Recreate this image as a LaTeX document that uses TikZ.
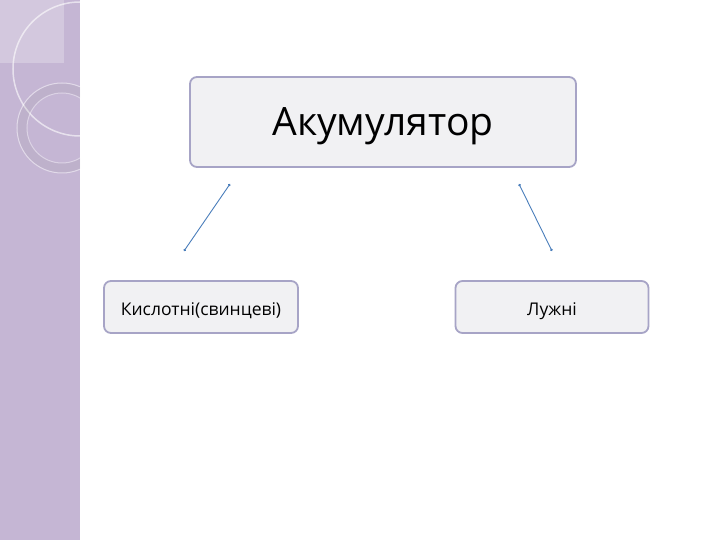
\documentclass[tikz,border=0pt]{standalone}
\usepackage{fontspec}
\setmainfont{Open Sans}
\definecolor{strip}{HTML}{C5B6D4}
\definecolor{boxline}{HTML}{A7A4C6}
\definecolor{boxfill}{HTML}{F1F1F3}
\definecolor{link}{HTML}{4A7EBB}
\usetikzlibrary{arrows.meta}
\tikzset{
  unitbox/.style={draw=boxline, line width=1.8pt, fill=boxfill, rounded corners=7pt,
    text depth=0pt},
  link/.style={draw=link, line width=0.9pt, {Circle[length=2.5pt]}-{Circle[length=2.5pt]}}
}
\begin{document}
\begin{tikzpicture}[x=1pt,y=-1pt]
  \useasboundingbox (0,0) rectangle (720,540);
  \fill[white] (0,0) rectangle (720,540);

  % side strip
  \fill[strip] (0,0) rectangle (80,540);
  \begin{scope}
    \clip (0,0) rectangle (80,540);
    \fill[white, opacity=0.25] (0,0) rectangle (64,63);
    \draw[white, opacity=0.6, line width=1.5pt] (80,69) circle (67);
    \draw[black!40, opacity=0.15, line width=9pt] (62,128) circle (40);
    \draw[white, opacity=0.5, line width=1pt] (62,128) circle (45);
    \draw[white, opacity=0.4, line width=1pt] (62,128) circle (35);
  \end{scope}

  % boxes
  \node[unitbox, minimum width=386, minimum height=90, text height=27pt,
    font=\fontsize{39}{39}\selectfont] (akum) at (383,122) {Акумулятор};
  \node[unitbox, minimum width=194, minimum height=52, text height=16.5pt,
    font=\fontsize{17.5}{17.5}\selectfont] (kysl) at (201,307) {Кислотні(свинцеві)};
  \node[unitbox, minimum width=193, minimum height=52, text height=16.5pt,
    font=\fontsize{17.5}{17.5}\selectfont] (luzh) at (552,307) {Лужні};

  % connectors
  \coordinate (l1) at (230,184);
  \coordinate (l2) at (184,251);
  \coordinate (r1) at (519,184);
  \coordinate (r2) at (552,251);
  \draw[link] (l1) -- (l2);
  \draw[link] (r1) -- (r2);
\end{tikzpicture}
\end{document}
